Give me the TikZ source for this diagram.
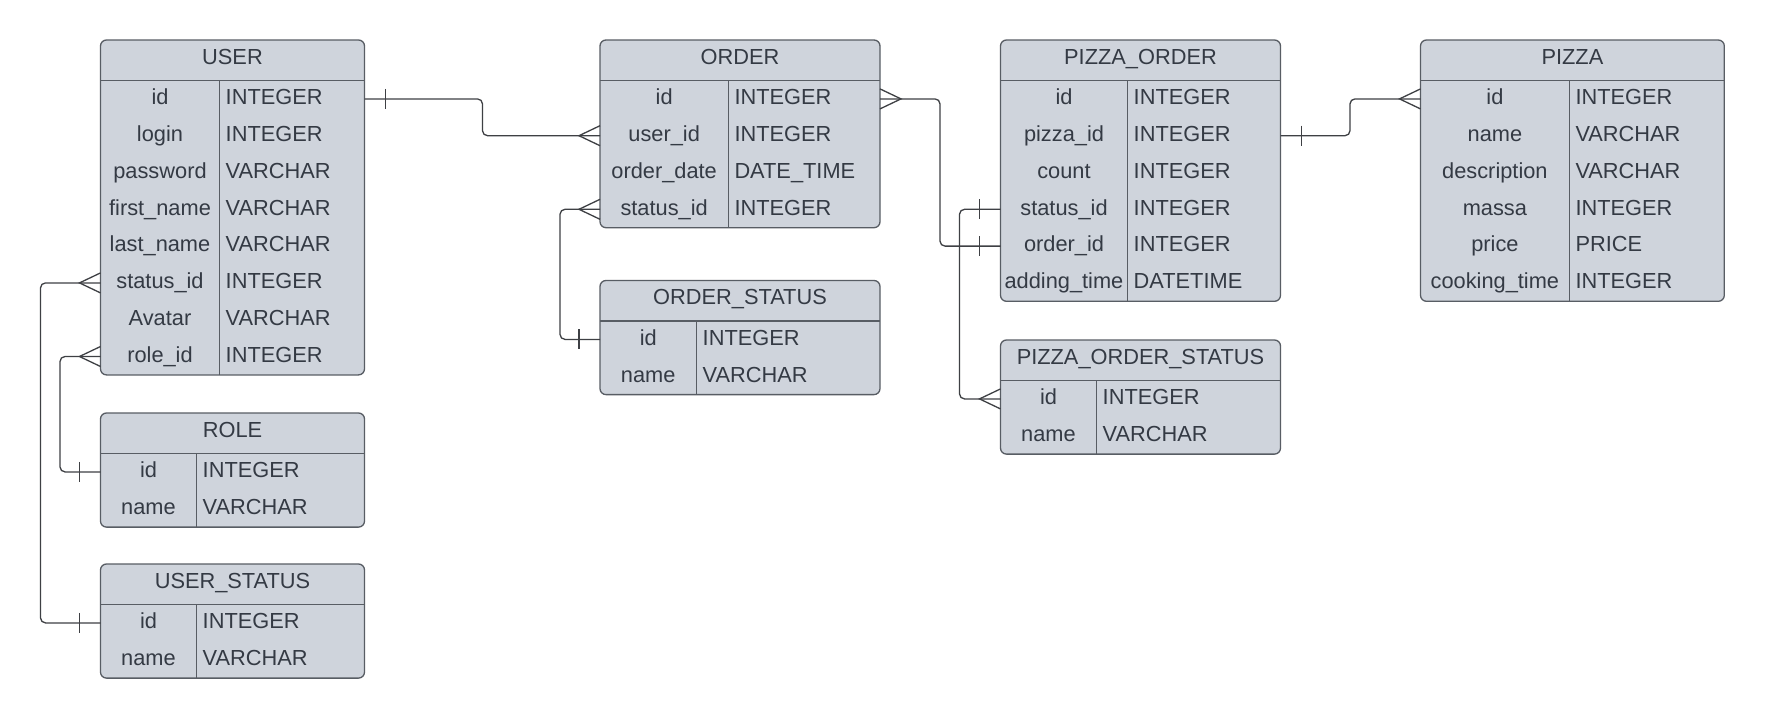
\documentclass[tikz,border=0pt]{standalone}
\usepackage{fontspec}
\setmainfont{Liberation Sans}
\usetikzlibrary{calc}
\definecolor{tfill}{RGB}{207,212,220}
\definecolor{tdraw}{RGB}{88,93,100}
\definecolor{ttext}{RGB}{52,58,68}
\definecolor{lcol}{RGB}{62,64,68}
\tikzset{
  tablebox/.style={draw=tdraw, fill=tfill, line width=1.3pt, rounded corners=6pt, inner sep=0pt, outer sep=0pt},
  tline/.style={draw=tdraw, line width=1.2pt},
  ttxt/.style={text=ttext, font=\fontsize{21.8}{26}\selectfont, inner sep=0pt},
  conn/.style={draw=lcol, line width=1.3pt},
  elbow/.style={conn, rounded corners=5pt},
}
% #1 name, #2 left, #3 divider, #4 right, #5 top, #6 rows, #7 title, #8 row list
\newcommand\ertable[8]{%
  \pgfmathsetmacro\ebot{#5+40.5+36.8*#6}%
  \node[tablebox, anchor=north west, minimum width={(#4-#2)*1pt}, minimum height={(\ebot-#5)*1pt}] (#1) at (#2,#5) {};
  \draw[tline] (#2,#5+40.5) -- (#4,#5+40.5);
  \draw[tline] (#3,#5+40.5) -- (#3,\ebot);
  \node[ttxt, anchor=base] (#1-title) at ({(#2+#4)/2},#5+24.3) {#7};
  \foreach \nm/\ty [count=\i] in {#8} {
    \pgfmathsetmacro\yc{#5+40.5+36.8*(\i-0.5)}
    \node[ttxt, anchor=base] (#1-\i-n) at ({(#2+#3)/2},\yc+5.8) {\nm};
    \node[ttxt, anchor=base west] (#1-\i-t) at (#3+6,\yc+5.8) {\ty};
    \coordinate (#1-\i-w) at (#2,\yc);
    \coordinate (#1-\i-e) at (#4,\yc);
  }
}
% one-bar mark: #1 coordinate, #2 direction (+1 right, -1 left)
\newcommand\barmark[2]{\draw[conn] ($(#1)+(#2*21,-10)$) -- ($(#1)+(#2*21,10)$);}
% crow's foot: toes at the entity edge, apex outward
\newcommand\crowmark[2]{\draw[conn] ($(#1)+(0,-10)$) -- ($(#1)+(#2*21,0)$) -- ($(#1)+(0,10)$);}
\begin{document}
\begin{tikzpicture}[x=1pt, y=-1pt]
\fill[white] (0,0) rectangle (1765,718);
\useasboundingbox (0,0) rectangle (1765,718);

\ertable{USER}{100.5}{219.5}{364.5}{40}{8}{USER}{id/INTEGER, login/INTEGER, password/VARCHAR, first\_name/VARCHAR, last\_name/VARCHAR, status\_id/INTEGER, Avatar/VARCHAR, role\_id/INTEGER}
\ertable{ROLE}{100.5}{196.5}{364.5}{413}{2}{ROLE}{id/INTEGER, name/VARCHAR}
\ertable{US}{100.5}{196.5}{364.5}{564}{2}{USER\_STATUS}{id/INTEGER, name/VARCHAR}
\ertable{ORDER}{600}{728.3}{880}{40}{4}{ORDER}{id/INTEGER, user\_id/INTEGER, order\_date/DATE\_TIME, status\_id/INTEGER}
\ertable{OS}{600}{696.5}{880}{280.5}{2}{ORDER\_STATUS}{id/INTEGER, name/VARCHAR}
\ertable{PO}{1000.5}{1127.5}{1280.5}{40}{6}{PIZZA\_ORDER}{id/INTEGER, pizza\_id/INTEGER, count/INTEGER, status\_id/INTEGER, order\_id/INTEGER, adding\_time/DATETIME}
\ertable{POS}{1000.5}{1096.5}{1280.5}{340}{2}{PIZZA\_ORDER\_STATUS}{id/INTEGER, name/VARCHAR}
\ertable{PIZZA}{1420.5}{1569.3}{1724.3}{40}{6}{PIZZA}{id/INTEGER, name/VARCHAR, description/VARCHAR, massa/INTEGER, price/PRICE, cooking\_time/INTEGER}

% USER.id -> ORDER.user_id
\draw[elbow] (USER-1-e) -- ++(118,0) |- (ORDER-2-w);
\barmark{USER-1-e}{1}
\crowmark{ORDER-2-w}{-1}
% ORDER.status_id -> ORDER_STATUS.id
\draw[elbow] (ORDER-4-w) -- ++(-40,0) |- (OS-1-w);
\crowmark{ORDER-4-w}{-1}
\barmark{OS-1-w}{-1}
% ORDER.id -> PIZZA_ORDER.order_id
\draw[elbow] (ORDER-1-e) -- ++(60,0) |- (PO-5-w);
\crowmark{ORDER-1-e}{1}
\barmark{PO-5-w}{-1}
% PIZZA_ORDER.status_id -> PIZZA_ORDER_STATUS.id
\draw[elbow] (PO-4-w) -- ++(-41,0) |- (POS-1-w);
\barmark{PO-4-w}{-1}
\crowmark{POS-1-w}{-1}
% PIZZA_ORDER.pizza_id -> PIZZA.id
\draw[elbow] (PO-2-e) -- ++(69.5,0) |- (PIZZA-1-w);
\barmark{PO-2-e}{1}
\crowmark{PIZZA-1-w}{-1}
% USER.status_id -> USER_STATUS.id
\draw[elbow] (USER-6-w) -- ++(-60,0) |- (US-1-w);
\crowmark{USER-6-w}{-1}
\barmark{US-1-w}{-1}
% USER.role_id -> ROLE.id
\draw[elbow] (USER-8-w) -- ++(-40.5,0) |- (ROLE-1-w);
\crowmark{USER-8-w}{-1}
\barmark{ROLE-1-w}{-1}
\end{tikzpicture}
\end{document}
